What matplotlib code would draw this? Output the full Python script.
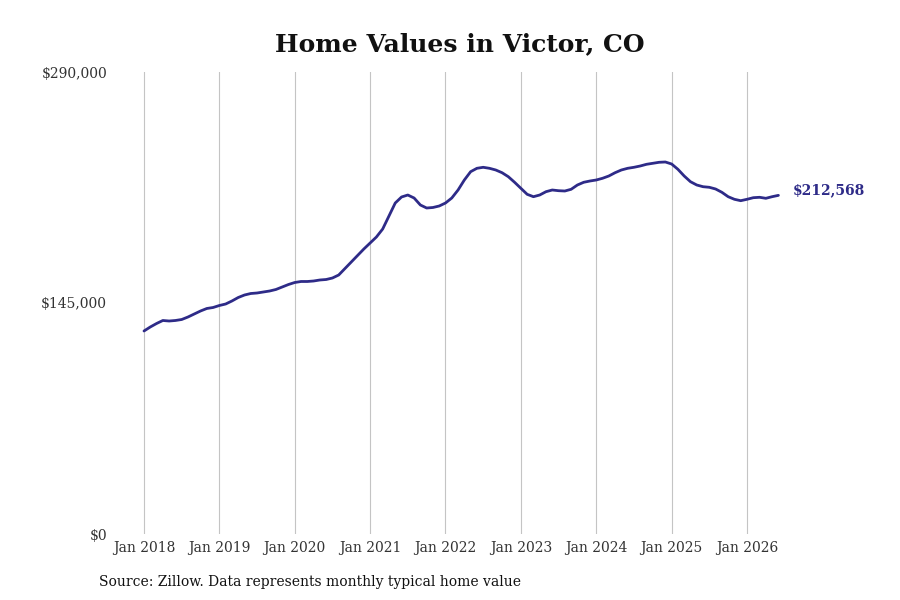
import matplotlib
matplotlib.use("Agg")
import matplotlib.pyplot as plt

plt.rcParams['font.family'] = ['DejaVu Serif']

tick_labels = ["Jan 2018", "Jan 2019", "Jan 2020", "Jan 2021", "Jan 2022",
               "Jan 2023", "Jan 2024", "Jan 2025", "Jan 2026"]
y_tick_values = [0, 145000, 290000]
y_tick_labels = ["$0", "$145,000", "$290,000"]

# Monthly typical home value (thousands of $), Jan 2018 .. Jun 2026
values_k = [
    127.43, 129.94, 132.13, 134.02, 133.70, 134.02, 134.64, 136.21, 138.10, 139.98, 141.55, 142.18,
    143.43, 144.37, 146.26, 148.45, 150.02, 150.96, 151.28, 151.91, 152.53, 153.48, 155.04, 156.61,
    157.87, 158.50, 158.50, 158.81, 159.44, 159.75, 160.69, 162.58, 166.66, 170.74, 174.82, 178.90,
    182.66, 186.43, 191.45, 199.61, 207.77, 211.54, 212.79, 210.91, 206.52, 204.63, 204.95, 205.89,
    207.77, 210.91, 215.93, 222.21, 227.42, 229.55, 230.18, 229.55, 228.49, 226.79, 224.28, 220.77,
    217.00, 213.23, 211.73, 212.79, 214.87, 215.93, 215.49, 215.30, 216.37, 219.07, 220.77, 221.58,
    222.21, 223.28, 224.72, 226.79, 228.49, 229.55, 230.18, 231.00, 232.06, 232.69, 233.32, 233.51,
    232.25, 228.93, 224.72, 221.14, 219.07, 218.00, 217.63, 216.56, 214.49, 211.73, 210.09, 209.22,
    210.09, 211.10, 211.35, 210.72, 211.73, 212.568,
]
last_label = "$212,568"

values = [v * 1000 for v in values_k]
months = list(range(len(values)))
tick_pos = [12 * i for i in range(len(tick_labels))]

LINE = "#2e2b88"

fig = plt.figure(figsize=(9, 6), dpi=100)
ax = fig.add_axes([112 / 900, 66 / 600, (860 - 112) / 900, (534 - 72) / 600])

ax.plot(months, values, color=LINE, linewidth=2.0, solid_capstyle="round")

px_per_month = (747 - 144) / 96
ax.set_xlim(-(144 - 112) / px_per_month, (860 - 144) / px_per_month)
ax.set_ylim(0, 290000)

ax.set_xticks(tick_pos)
ax.set_xticklabels(tick_labels, fontsize=10, color="#333333")
ax.set_yticks(y_tick_values)
ax.set_yticklabels(y_tick_labels, fontsize=10, color="#333333")
ax.tick_params(axis="both", length=0)
ax.tick_params(axis="x", pad=5)
ax.tick_params(axis="y", pad=3.5)

ax.grid(axis="x", color="#c4c4c4", linewidth=0.8)
ax.grid(axis="y", visible=False)
for s in ax.spines.values():
    s.set_visible(False)

ax.annotate(last_label, xy=(months[-1], values[-1]), xytext=(10, 3.6),
            textcoords="offset points", color=LINE, fontsize=10,
            fontweight="bold", va="center", ha="left")

fig.text(460 / 900, 1 - 44 / 600, "Home Values in Victor, CO", ha="center",
         va="center", fontsize=18, fontweight="bold", color="#111111")
fig.text(99 / 900, 1 - 582 / 600,
         "Source: Zillow. Data represents monthly typical home value",
         ha="left", va="center", fontsize=10, color="#111111")

fig.savefig("out.png", dpi=100)
